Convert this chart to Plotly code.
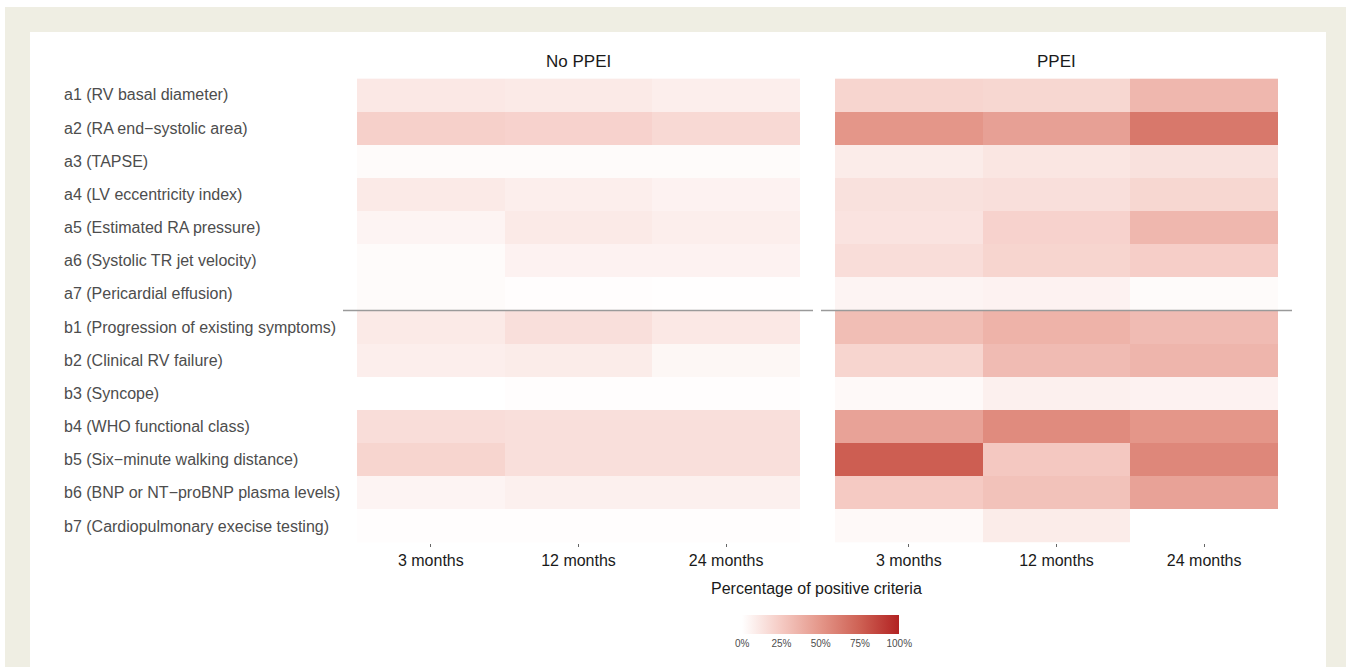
import plotly.graph_objects as go

W, H = 1346, 667

criteria = [
    "a1 (RV basal diameter)",
    "a2 (RA end\u2212systolic area)",
    "a3 (TAPSE)",
    "a4 (LV eccentricity index)",
    "a5 (Estimated RA pressure)",
    "a6 (Systolic TR jet velocity)",
    "a7 (Pericardial effusion)",
    "b1 (Progression of existing symptoms)",
    "b2 (Clinical RV failure)",
    "b3 (Syncope)",
    "b4 (WHO functional class)",
    "b5 (Six\u2212minute walking distance)",
    "b6 (BNP or NT\u2212proBNP plasma levels)",
    "b7 (Cardiopulmonary execise testing)",
]
timepoints = ["3 months", "12 months", "24 months"]
groups = ["No PPEI", "PPEI"]

# percentage of positive criteria, rows = criteria, cols = timepoints
no_ppei = [
    [11, 10, 8],
    [22, 21, 18],
    [2, 2, 2],
    [10, 8, 6],
    [5, 10, 8],
    [2, 6, 6],
    [2, 1, 0.5],
    [10, 15, 11],
    [8, 9, 4],
    [0, 1, 1],
    [16, 15, 15],
    [20, 15, 15],
    [5, 7, 7],
    [1, 1, 1],
]
ppei = [
    [20, 19, 34],
    [50, 45, 64],
    [9, 12, 14],
    [14, 15, 19],
    [13, 21, 34],
    [16, 20, 23],
    [5, 6, 2],
    [31, 36, 32],
    [20, 32, 35],
    [3, 7, 6],
    [44, 55, 50],
    [76, 26, 57],
    [25, 29, 44],
    [3, 9, None],
]
cbar_ticks = [0, 25, 50, 75, 100]
cbar_ticklabels = ["0%", "25%", "50%", "75%", "100%"]

colorscale = [
    [0.0, "rgb(255,255,255)"],
    [0.25, "rgb(245,202,195)"],
    [0.5, "rgb(228,150,137)"],
    [0.75, "rgb(206,97,84)"],
    [1.0, "rgb(178,34,34)"],
]

FONT = "Liberation Sans, Arial"

def fx(px):
    return px / W

def fy(py):
    return 1 - py / H

CB_LEFT, CB_LEN, CB_TOP, CB_THICK = 742.5, 156.5, 614.5, 19

fig = go.Figure()
for i, (name, z) in enumerate([(groups[0], no_ppei), (groups[1], ppei)]):
    fig.add_trace(go.Heatmap(
        z=z, x=timepoints, y=criteria,
        xaxis="x" if i == 0 else "x2", yaxis="y" if i == 0 else "y2",
        colorscale=colorscale, zmin=0, zmax=100,
        showscale=(i == 0), hoverinfo="skip",
        colorbar=dict(
            orientation="h", x=fx(CB_LEFT + CB_LEN / 2), xanchor="center",
            y=fy(CB_TOP), yanchor="top", thickness=CB_THICK,
            lenmode="pixels", len=CB_LEN, outlinewidth=0,
            tickvals=cbar_ticks, ticktext=cbar_ticklabels,
            ticks="",
            tickfont=dict(family=FONT, size=10, color="#4d4d4d"),
            xpad=0, ypad=0,
        ) if i == 0 else None,
    ))

ydom = [fy(542.6), fy(78.4)]
xcommon = dict(type="category", showgrid=False, zeroline=False, showline=False,
               ticks="outside", ticklen=3, tickcolor="#666666", tickwidth=1,
               tickfont=dict(family=FONT, size=16, color="#1a1a1a"),
               fixedrange=True)
ycommon = dict(type="category", autorange="reversed", showgrid=False, zeroline=False,
               showline=False, showticklabels=False, ticks="", domain=ydom, fixedrange=True)

fig.update_layout(
    width=W, height=H, autosize=False,
    margin=dict(l=0, r=0, t=0, b=0),
    paper_bgcolor="white", plot_bgcolor="rgba(0,0,0,0)",
    xaxis=dict(domain=[fx(357), fx(800)], **xcommon),
    xaxis2=dict(domain=[fx(835), fx(1278)], **xcommon),
    yaxis=dict(anchor="x", **ycommon),
    yaxis2=dict(anchor="x2", matches="y", **ycommon),
    showlegend=False,
)

shapes = [
    dict(type="rect", xref="paper", yref="paper", x0=fx(5), x1=fx(1346), y0=fy(667), y1=fy(7),
         fillcolor="#EFEEE3", line=dict(width=0), layer="below"),
    dict(type="rect", xref="paper", yref="paper", x0=fx(30), x1=fx(1326), y0=fy(667), y1=fy(32),
         fillcolor="white", line=dict(width=0), layer="below"),
    dict(type="line", xref="paper", yref="y", x0=fx(343), x1=fx(813), y0=6.5, y1=6.5,
         line=dict(color="#9a9a9a", width=1.5)),
    dict(type="line", xref="paper", yref="y2", x0=fx(821), x1=fx(1292), y0=6.5, y1=6.5,
         line=dict(color="#9a9a9a", width=1.5)),
]
# ggplot-style colourbar ticks: short white marks at top and bottom edges
tick_len = CB_THICK / 5
for v in cbar_ticks[1:]:
    px = CB_LEFT + v / 100 * CB_LEN
    for ya, yb in [(CB_TOP, CB_TOP + tick_len), (CB_TOP + CB_THICK - tick_len, CB_TOP + CB_THICK)]:
        shapes.append(dict(type="line", xref="paper", yref="paper", x0=fx(px), x1=fx(px),
                           y0=fy(ya), y1=fy(yb), line=dict(color="white", width=1.2)))

annotations = []
for c in criteria:
    annotations.append(dict(text=c, xref="paper", yref="y", x=fx(62), y=c,
                            xanchor="left", yanchor="middle", showarrow=False,
                            font=dict(family=FONT, size=16, color="#4d4d4d")))
for g, xc in zip(groups, [fx(578.5), fx(1056.5)]):
    annotations.append(dict(text=g, xref="paper", yref="paper", x=xc, y=fy(61),
                            xanchor="center", yanchor="middle", showarrow=False,
                            font=dict(family=FONT, size=17, color="#1a1a1a")))
annotations.append(dict(text="Percentage of positive criteria", xref="paper", yref="paper",
                        x=fx(817), y=fy(588), xanchor="center", yanchor="middle", showarrow=False,
                        font=dict(family=FONT, size=16, color="#1a1a1a")))

fig.update_layout(shapes=shapes, annotations=annotations)
fig.write_html("out.html", config={"displayModeBar": False},
               post_script="document.body.style.margin='0';document.body.style.overflow='hidden';")
